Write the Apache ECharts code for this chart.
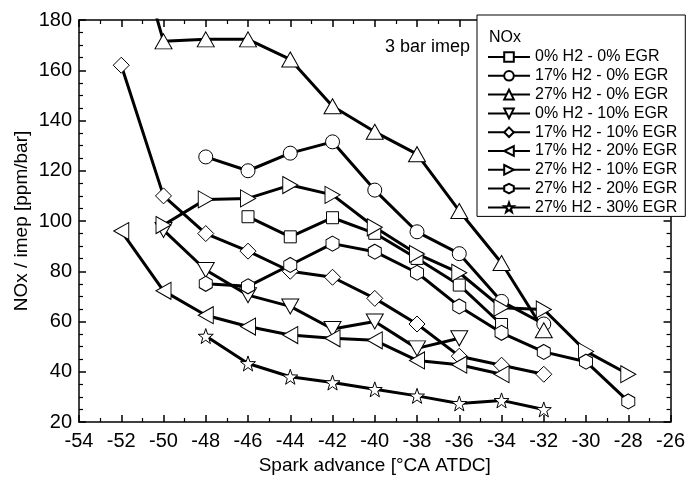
<!DOCTYPE html>
<html>
<head>
<meta charset="utf-8">
<script src="https://cdn.jsdelivr.net/npm/echarts@6/dist/echarts.min.js"></script>
<style>html,body{margin:0;padding:0;background:#fff;}#c{width:688px;height:481px;}</style>
</head>
<body>
<div id="c"></div>
<script>
// Spark advance positions [°CA ATDC]
var sparkAdvance = [-52, -50, -48, -46, -44, -42, -40, -38, -36, -34, -32, -30, -28];
// NOx / imep [ppm/bar]
var h0egr0   = [null, null, null, 101.7, 93.7, 101.3, 95.1, 85.1, 74.5, 58.8, null, null, null];
var h17egr0  = [null, null, 125.5, 120, 127, 131.5, 112.3, 95.7, 87, 68, 59, null, null];
var h27egr0  = [230, 171.5, 172.3, 172.3, 164.3, 145.7, 135.5, 126.6, 104, 83.3, 56.5, null, null];
var h0egr10  = [null, 96.4, 80.5, 70.5, 66, 57, 60, 49.3, 53.3, null, null, null, null];
var h17egr10 = [162, 110, 95, 88, 80, 77.6, 69.2, 59, 46.2, 42.6, 39, null, null];
var h17egr20 = [96, 72.2, 62.5, 58, 54.6, 53.3, 52.5, 44.5, 42.8, 39, null, null, null];
var h27egr10 = [null, 98.4, 108.6, 109, 114.3, 110.4, 97.5, 86.9, 79.4, 65.5, 64.8, 48.1, 39];
var h27egr20 = [null, null, 75, 74, 82.5, 91, 87.8, 79.4, 66, 55.5, 47.9, 44, 28.2];
var h27egr30 = [null, null, 54.2, 43.3, 38, 35.7, 33, 30.4, 27.4, 28.6, 25, null, null];

var seriesNames = ['0% H2 - 0% EGR', '17% H2 - 0% EGR', '27% H2 - 0% EGR', '0% H2 - 10% EGR',
  '17% H2 - 10% EGR', '17% H2 - 20% EGR', '27% H2 - 10% EGR', '27% H2 - 20% EGR', '27% H2 - 30% EGR'];
var seriesValues = [h0egr0, h17egr0, h27egr0, h0egr10, h17egr10, h17egr20, h27egr10, h27egr20, h27egr30];
var xTicks = [-54, -26, 2];
var yTicks = [20, 180, 20];

var FONT = 'Liberation Sans, Arial, Helvetica, sans-serif';
var symbols = [
  {s: 'rect', size: 12},
  {s: 'circle', size: 14},
  {s: 'path://M5,0 L10,8.7 L0,8.7 Z', size: [17, 15]},
  {s: 'path://M0,0 L10,0 L5,8.7 Z', size: [17, 15]},
  {s: 'path://M5,0 L10,5 L5,10 L0,5 Z', size: [16, 16]},
  {s: 'path://M0,5 L8.7,0 L8.7,10 Z', size: [15, 17]},
  {s: 'path://M0,0 L8.7,5 L0,10 Z', size: [15, 17]},
  {s: 'path://M0,-1 L0.866,-0.5 L0.866,0.5 L0,1 L-0.866,0.5 L-0.866,-0.5 Z', size: [13, 15]},
  {s: 'path://M0,-10 L2.35,-3.24 L9.51,-3.09 L3.8,1.24 L5.88,8.09 L0,4 L-5.88,8.09 L-3.8,1.24 L-9.51,-3.09 L-2.35,-3.24 Z', size: [15, 15]}
];

function pairs(vals) {
  var out = [];
  for (var i = 0; i < sparkAdvance.length; i++) {
    if (vals[i] !== null) out.push([sparkAdvance[i], vals[i]]);
  }
  return out;
}

var series = seriesNames.map(function (n, i) {
  return {
    name: n, type: 'line', data: pairs(seriesValues[i]),
    symbol: symbols[i].s, symbolSize: symbols[i].size, showAllSymbol: true,
    lineStyle: {color: '#000', width: 3},
    itemStyle: {color: '#fff', borderColor: '#000', borderWidth: 1},
    emphasis: {disabled: true}, animation: false, clip: true
  };
});

var axisCommon = {
  axisLine: {show: true, onZero: false, lineStyle: {color: '#000', width: 1.5}},
  axisTick: {show: true, inside: true, length: 7, lineStyle: {color: '#000', width: 1.5}},
  minorTick: {show: true, length: 4, lineStyle: {color: '#000', width: 1.2}},
  splitLine: {show: false},
  axisLabel: {color: '#000', fontFamily: FONT, fontSize: 20}
};

function mk(base, extra) { return Object.assign(JSON.parse(JSON.stringify(base)), extra); }

var chart = echarts.init(document.getElementById('c'), null, {renderer: 'canvas'});
chart.setOption({
  backgroundColor: '#fff',
  animation: false,
  grid: {left: 79, right: 11, top: 20, bottom: 59},
  xAxis: [
    mk(axisCommon, {type: 'value', min: xTicks[0], max: xTicks[1], interval: xTicks[2], position: 'bottom',
      minorTick: {show: true, splitNumber: 2, length: 4, lineStyle: {color: '#000', width: 1.2}},
      axisLabel: {color: '#000', fontFamily: FONT, fontSize: 20, margin: 9},
      name: 'Spark advance [°CA ATDC]', nameLocation: 'middle', nameGap: 34, nameMoveOverlap: false,
      nameTextStyle: {color: '#000', fontFamily: FONT, fontSize: 19}}),
    mk(axisCommon, {type: 'value', min: xTicks[0], max: xTicks[1], interval: xTicks[2], position: 'top',
      minorTick: {show: true, splitNumber: 2, length: 4, lineStyle: {color: '#000', width: 1.2}},
      axisLabel: {show: false}})
  ],
  yAxis: [
    mk(axisCommon, {type: 'value', min: yTicks[0], max: yTicks[1], interval: yTicks[2], position: 'left',
      minorTick: {show: true, splitNumber: 4, length: 4, lineStyle: {color: '#000', width: 1.2}},
      axisLabel: {color: '#000', fontFamily: FONT, fontSize: 20, margin: 7},
      name: 'NOx / imep [ppm/bar]', nameLocation: 'middle', nameGap: 48, nameMoveOverlap: false,
      nameTextStyle: {color: '#000', fontFamily: FONT, fontSize: 19}}),
    mk(axisCommon, {type: 'value', min: yTicks[0], max: yTicks[1], interval: yTicks[2], position: 'right',
      minorTick: {show: true, splitNumber: 4, length: 4, lineStyle: {color: '#000', width: 1.2}},
      axisLabel: {show: false}})
  ],
  legend: {
    orient: 'vertical', left: 477, top: 15,
    padding: [34, 8, 1, 10], itemGap: 2.8, itemWidth: 42, itemHeight: 12,
    backgroundColor: '#fff', borderColor: '#000', borderWidth: 1,
    textStyle: {color: '#000', fontFamily: FONT, fontSize: 16},
    selectedMode: false,
    data: seriesNames
  },
  graphic: [
    {type: 'text', left: 489, top: 30, z: 100,
      style: {text: 'NOx', fill: '#000', font: '16px ' + FONT}},
    {type: 'text', left: 385, top: 38, z: 100,
      style: {text: '3 bar imep', fill: '#000', font: '18px ' + FONT}}
  ],
  series: series
});
</script>
</body>
</html>
